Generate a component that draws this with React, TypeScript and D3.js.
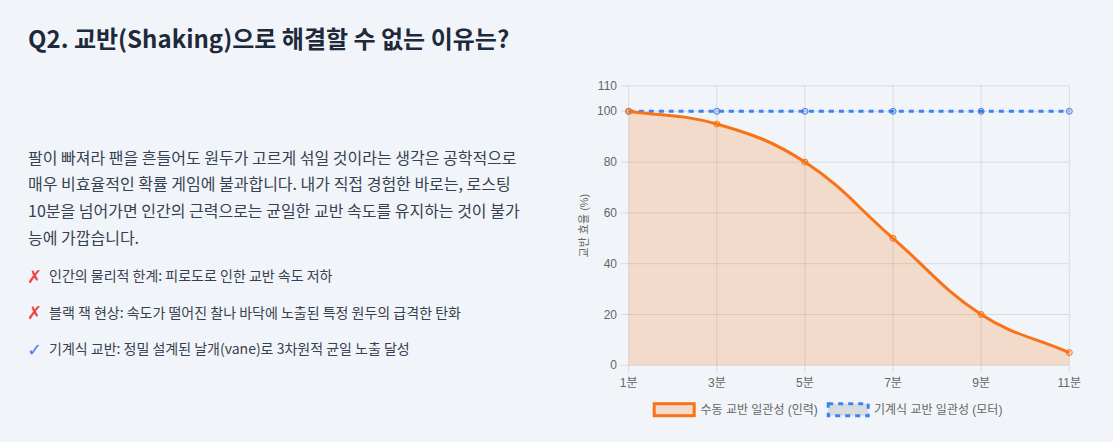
import React from 'react';
import * as d3 from 'd3';

const categories = ['1분', '3분', '5분', '7분', '9분', '11분'];
const manualValues = [100, 95, 80, 50, 20, 5];
const mechanicalValues = [100, 100, 100, 100, 100, 100];
const yTicks = [0, 20, 40, 60, 80, 100, 110];
const seriesNames = ['수동 교반 일관성 (인력)', '기계식 교반 일관성 (모터)'];

const titleText = 'Q2. 교반(Shaking)으로 해결할 수 없는 이유는?';
const paragraphLines = [
  '팔이 빠져라 팬을 흔들어도 원두가 고르게 섞일 것이라는 생각은 공학적으로',
  '매우 비효율적인 확률 게임에 불과합니다. 내가 직접 경험한 바로는, 로스팅',
  '10분을 넘어가면 인간의 근력으로는 균일한 교반 속도를 유지하는 것이 불가',
  '능에 가깝습니다.',
];
const bullets = [
  { icon: '✗', text: '인간의 물리적 한계: 피로도로 인한 교반 속도 저하' },
  { icon: '✗', text: '블랙 잭 현상: 속도가 떨어진 찰나 바닥에 노출된 특정 원두의 급격한 탄화' },
  { icon: '✓', text: '기계식 교반: 정밀 설계된 날개(vane)로 3차원적 균일 노출 달성' },
];

const W = 1113;
const H = 442;
const BG = '#f1f5f9';
const ORANGE = '#f97316';
const BLUE = '#3b82f6';
const GRID = 'rgba(0,0,0,0.1)';
const TICK = '#666';
const KR = '"Noto Sans CJK KR", "Noto Sans", sans-serif';
const AX = '"Liberation Sans", Arial, "Noto Sans CJK KR", sans-serif';

const left = 628.7, right = 1069.3, top = 85.9, bottom = 365.3;

type P = { x: number; y: number };

// Chart.js style spline (tension 0.4) with control points capped to chart area
function splinePath(pts: P[], tension: number): string {
  const cps = pts.map((cur, i) => {
    const prev = pts[i - 1] || cur;
    const next = pts[i + 1] || cur;
    const d01 = Math.hypot(cur.x - prev.x, cur.y - prev.y);
    const d12 = Math.hypot(next.x - cur.x, next.y - cur.y);
    let s01 = d01 / (d01 + d12);
    let s12 = d12 / (d01 + d12);
    if (!isFinite(s01)) s01 = 0;
    if (!isFinite(s12)) s12 = 0;
    const fa = tension * s01;
    const fb = tension * s12;
    const cap = (p: P): P => ({
      x: Math.max(left, Math.min(right, p.x)),
      y: Math.max(top, Math.min(bottom, p.y)),
    });
    return {
      cp1: cap({ x: cur.x - fa * (next.x - prev.x), y: cur.y - fa * (next.y - prev.y) }),
      cp2: cap({ x: cur.x + fb * (next.x - prev.x), y: cur.y + fb * (next.y - prev.y) }),
    };
  });
  const path = d3.path();
  pts.forEach((p, i) => {
    if (i === 0) path.moveTo(p.x, p.y);
    else path.bezierCurveTo(cps[i - 1].cp2.x, cps[i - 1].cp2.y, cps[i].cp1.x, cps[i].cp1.y, p.x, p.y);
  });
  return path.toString();
}

export default function App() {
  const x = d3.scalePoint<string>().domain(categories).range([left, right]);
  const y = d3.scaleLinear().domain([0, 110]).range([bottom, top]);

  const manualPts = categories.map((c, i) => ({ x: x(c)!, y: y(manualValues[i]) }));
  const mechPts = categories.map((c, i) => ({ x: x(c)!, y: y(mechanicalValues[i]) }));
  const manualLine = splinePath(manualPts, 0.4);
  const mechLine = splinePath(mechPts, 0.4);
  const manualArea = manualLine + `L${right},${y(0)}L${left},${y(0)}Z`;

  const legendY = 409.7;

  return (
    <svg width={W} height={H} style={{ position: 'absolute', left: 0, top: 0, display: 'block' }}>
      <rect x={0} y={0} width={W} height={H} fill={BG} />

      <text x={28} y={48} fontFamily={KR} fontSize={24} fontWeight={700} fill="#1e293b">
        {titleText}
      </text>

      {paragraphLines.map((line, i) => (
        <text key={i} x={28} y={156.7 + i * 26.6} dominantBaseline="central" fontFamily={KR} fontSize={16} fill="#374151">
          {line}
        </text>
      ))}

      {bullets.map((b, i) => (
        <g key={i}>
          <text x={27} y={276 + i * 36.6} dominantBaseline="central" fontFamily='"DejaVu Sans", sans-serif' fontSize={18}
            fill={b.icon === '✓' ? BLUE : '#ef4444'}>{b.icon}</text>
          <text x={49} y={275 + i * 36.6} dominantBaseline="central" fontFamily={KR} fontSize={14} fill="#374151">
            {b.text}
          </text>
        </g>
      ))}

      {/* grid */}
      {yTicks.map((t) => (
        <line key={'gy' + t} x1={left - 8} x2={right} y1={y(t)} y2={y(t)} stroke={GRID} strokeWidth={1} />
      ))}
      {categories.map((c) => (
        <line key={'gx' + c} x1={x(c)} x2={x(c)} y1={top} y2={bottom + 8} stroke={GRID} strokeWidth={1} />
      ))}

      {/* y tick labels */}
      {yTicks.map((t) => (
        <text key={'ty' + t} x={617} y={y(t)} textAnchor="end" dominantBaseline="central" fontFamily={AX} fontSize={12} fill={TICK}>
          {t}
        </text>
      ))}
      {categories.map((c) => (
        <text key={'tx' + c} x={x(c)} y={383.3} textAnchor="middle" dominantBaseline="central" fontFamily={AX} fontSize={12} fill={TICK}>
          {c}
        </text>
      ))}
      <text transform={`translate(583.5, ${(top + bottom) / 2}) rotate(-90)`} textAnchor="middle" dominantBaseline="central"
        fontFamily={AX} fontSize={11} fill={TICK}>
        교반 효율 (%)
      </text>

      {/* mechanical (drawn first, below) */}
      <path d={mechLine} fill="none" stroke={BLUE} strokeWidth={3} strokeDasharray="5,5" />
      {mechPts.map((p, i) => (
        <circle key={'mp' + i} cx={p.x} cy={p.y} r={3} fill="rgba(0,0,0,0.1)" stroke={BLUE} strokeWidth={1} />
      ))}

      {/* manual */}
      <path d={manualArea} fill="rgba(249,115,22,0.2)" stroke="none" />
      <path d={manualLine} fill="none" stroke={ORANGE} strokeWidth={3} />
      {manualPts.map((p, i) => (
        <circle key={'op' + i} cx={p.x} cy={p.y} r={3} fill="rgba(249,115,22,0.2)" stroke={ORANGE} strokeWidth={1} />
      ))}

      {/* legend */}
      <rect x={654.2} y={legendY - 6} width={40} height={12} fill="rgba(249,115,22,0.2)" stroke={ORANGE} strokeWidth={3} />
      <text x={700.5} y={legendY} dominantBaseline="central" fontFamily={AX} fontSize={12} fill={TICK}>{seriesNames[0]}</text>
      <rect x={828.2} y={legendY - 6} width={40} height={12} fill="rgba(0,0,0,0.1)" stroke={BLUE} strokeWidth={3} strokeDasharray="5,5" />
      <text x={874} y={legendY} dominantBaseline="central" fontFamily={AX} fontSize={12} fill={TICK}>{seriesNames[1]}</text>
    </svg>
  );
}
